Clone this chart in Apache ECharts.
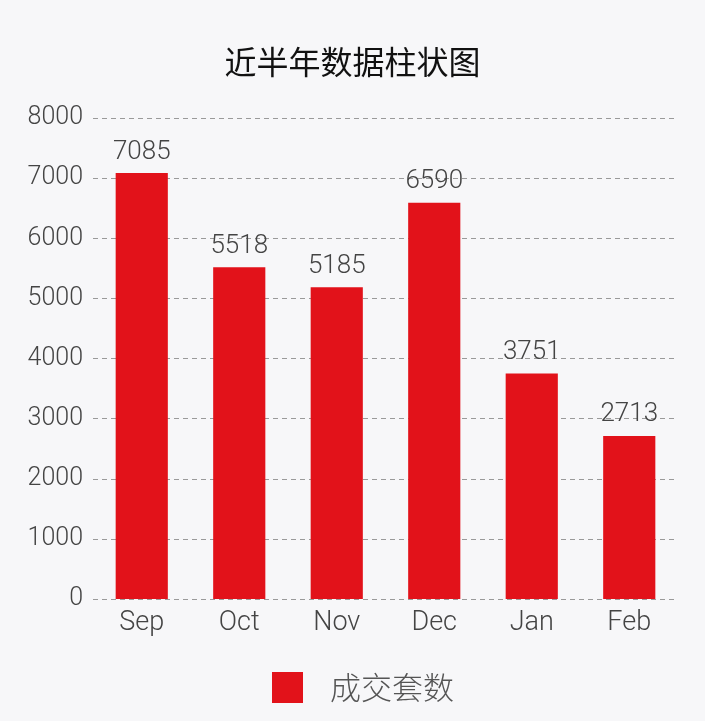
<!DOCTYPE html>
<html>
<head>
<meta charset="utf-8">
<script src="https://cdn.jsdelivr.net/npm/echarts@6/dist/echarts.min.js"></script>
<style>
html,body{margin:0;padding:0;background:#f7f7f9;}
#c{width:705px;height:721px;}
</style>
</head>
<body>
<div id="c"></div>
<script>
const titleText = '近半年数据柱状图';
const categories = ['Sep', 'Oct', 'Nov', 'Dec', 'Jan', 'Feb'];
const seriesName = '成交套数';
const values = [7085, 5518, 5185, 6590, 3751, 2713];
const yTicks = [0, 1000, 2000, 3000, 4000, 5000, 6000, 7000, 8000];

const numFont = 'Roboto, "Noto Sans", sans-serif';
const cjkFont = '"Noto Sans CJK SC", sans-serif';
const chart = echarts.init(document.getElementById('c'));
chart.setOption({
  backgroundColor: '#f7f7f9',
  animation: false,
  title: {
    text: titleText,
    left: 'center',
    top: 41,
    textStyle: { fontFamily: cjkFont, fontSize: 32, fontWeight: 400, color: '#111' }
  },
  legend: {
    bottom: 13,
    left: 267,
    itemWidth: 31,
    itemHeight: 31,
    itemGap: 10,
    icon: 'rect',
    textStyle: { fontFamily: cjkFont, fontSize: 31, fontWeight: 300, color: '#555', padding: [0, 0, 0, 22] },
    data: [seriesName]
  },
  grid: { left: 93, right: 27, top: 118, bottom: 122, containLabel: false },
  xAxis: {
    type: 'category',
    data: categories,
    axisLine: { show: false },
    axisTick: { show: false },
    axisLabel: { fontFamily: numFont, fontWeight: 300, fontSize: 27, color: '#444', margin: 11 }
  },
  yAxis: {
    type: 'value',
    min: yTicks[0],
    max: yTicks[yTicks.length - 1],
    interval: yTicks[1] - yTicks[0],
    axisLine: { show: false },
    axisTick: { show: false },
    axisLabel: { fontFamily: numFont, fontWeight: 300, fontSize: 25, color: '#444', margin: 10, formatter: v => String(v) },
    splitLine: { lineStyle: { type: [5, 4], color: '#9a9a9a', width: 1 } }
  },
  series: [{
    name: seriesName,
    type: 'bar',
    data: values,
    barWidth: '53.5%',
    itemStyle: { color: '#e2121a' },
    label: {
      show: true,
      position: 'top',
      distance: 8,
      fontFamily: numFont,
      fontWeight: 300,
      fontSize: 26,
      color: '#444'
    }
  }]
});
</script>
</body>
</html>
